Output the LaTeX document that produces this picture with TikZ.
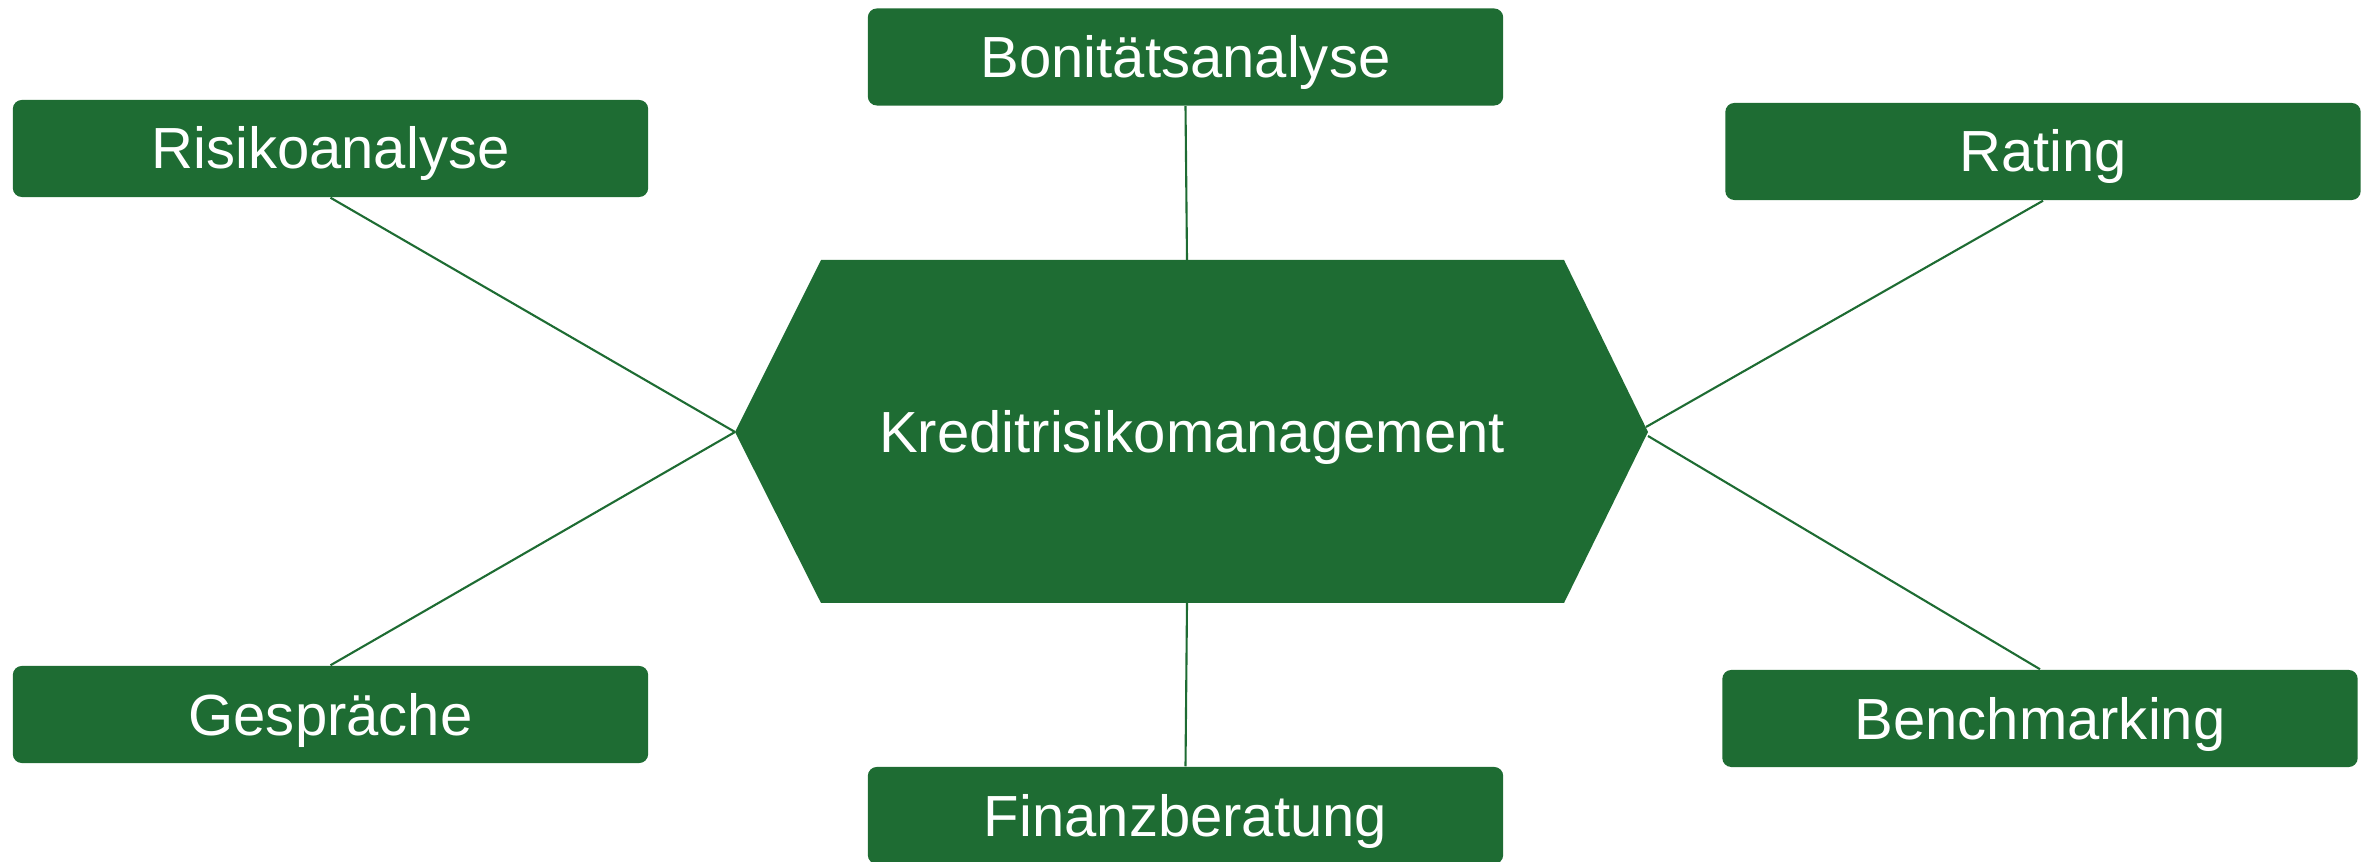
\documentclass[tikz,border=0pt]{standalone}
\usepackage{fontspec}
\setmainfont{Liberation Sans}
\definecolor{kgreen}{RGB}{30,108,51}
\begin{document}
\begin{tikzpicture}[x=0.01cm,y=-0.01cm,
  leaf/.style={fill=kgreen, rounded corners=0.09cm, text=white,
    font=\fontsize{16.5}{19}\selectfont, minimum width=6.35cm, minimum height=0.97cm,
    inner sep=0pt, text height=0.41cm, text depth=0pt},
  hexlabel/.style={text=white, font=\fontsize{16.5}{19}\selectfont, inner sep=0pt,
    text height=0.41cm, text depth=0pt},
  link/.style={draw=kgreen, line width=0.6pt}]
\useasboundingbox (0,0) rectangle (2369,862);

% central hexagon
\fill[kgreen] (735,432) -- (821,260) -- (1564,260) -- (1648,432) -- (1564,603) -- (821,603) -- cycle;
\node[hexlabel] (hex) at (1192,432) {Kreditrisikomanagement};
\coordinate (hexT) at (1187,260);
\coordinate (hexB) at (1187,603);
\coordinate (hexL) at (735,432);
\coordinate (hexR1) at (1646,427);
\coordinate (hexR2) at (1648,436);

% outer boxes
\node[leaf] (risk) at (330.5,148.5) {Risikoanalyse};
\node[leaf] (boni) at (1185.5,57) {Bonitätsanalyse};
\node[leaf] (rating) at (2043,151.5) {Rating};
\node[leaf] (gespr) at (330.5,714.5) {Gespräche};
\node[leaf] (bench) at (2040,718.5) {Benchmarking};
\node[leaf] (finanz) at (1185.5,815.5) {Finanzberatung};

% connectors
\draw[link] (risk.south) -- (hexL);
\draw[link] (gespr.north) -- (hexL);
\draw[link] (boni.south) -- (hexT);
\draw[link] (hexB) -- (finanz.north);
\draw[link] (rating.south) -- (hexR1);
\draw[link] (bench.north) -- (hexR2);
\end{tikzpicture}
\end{document}
